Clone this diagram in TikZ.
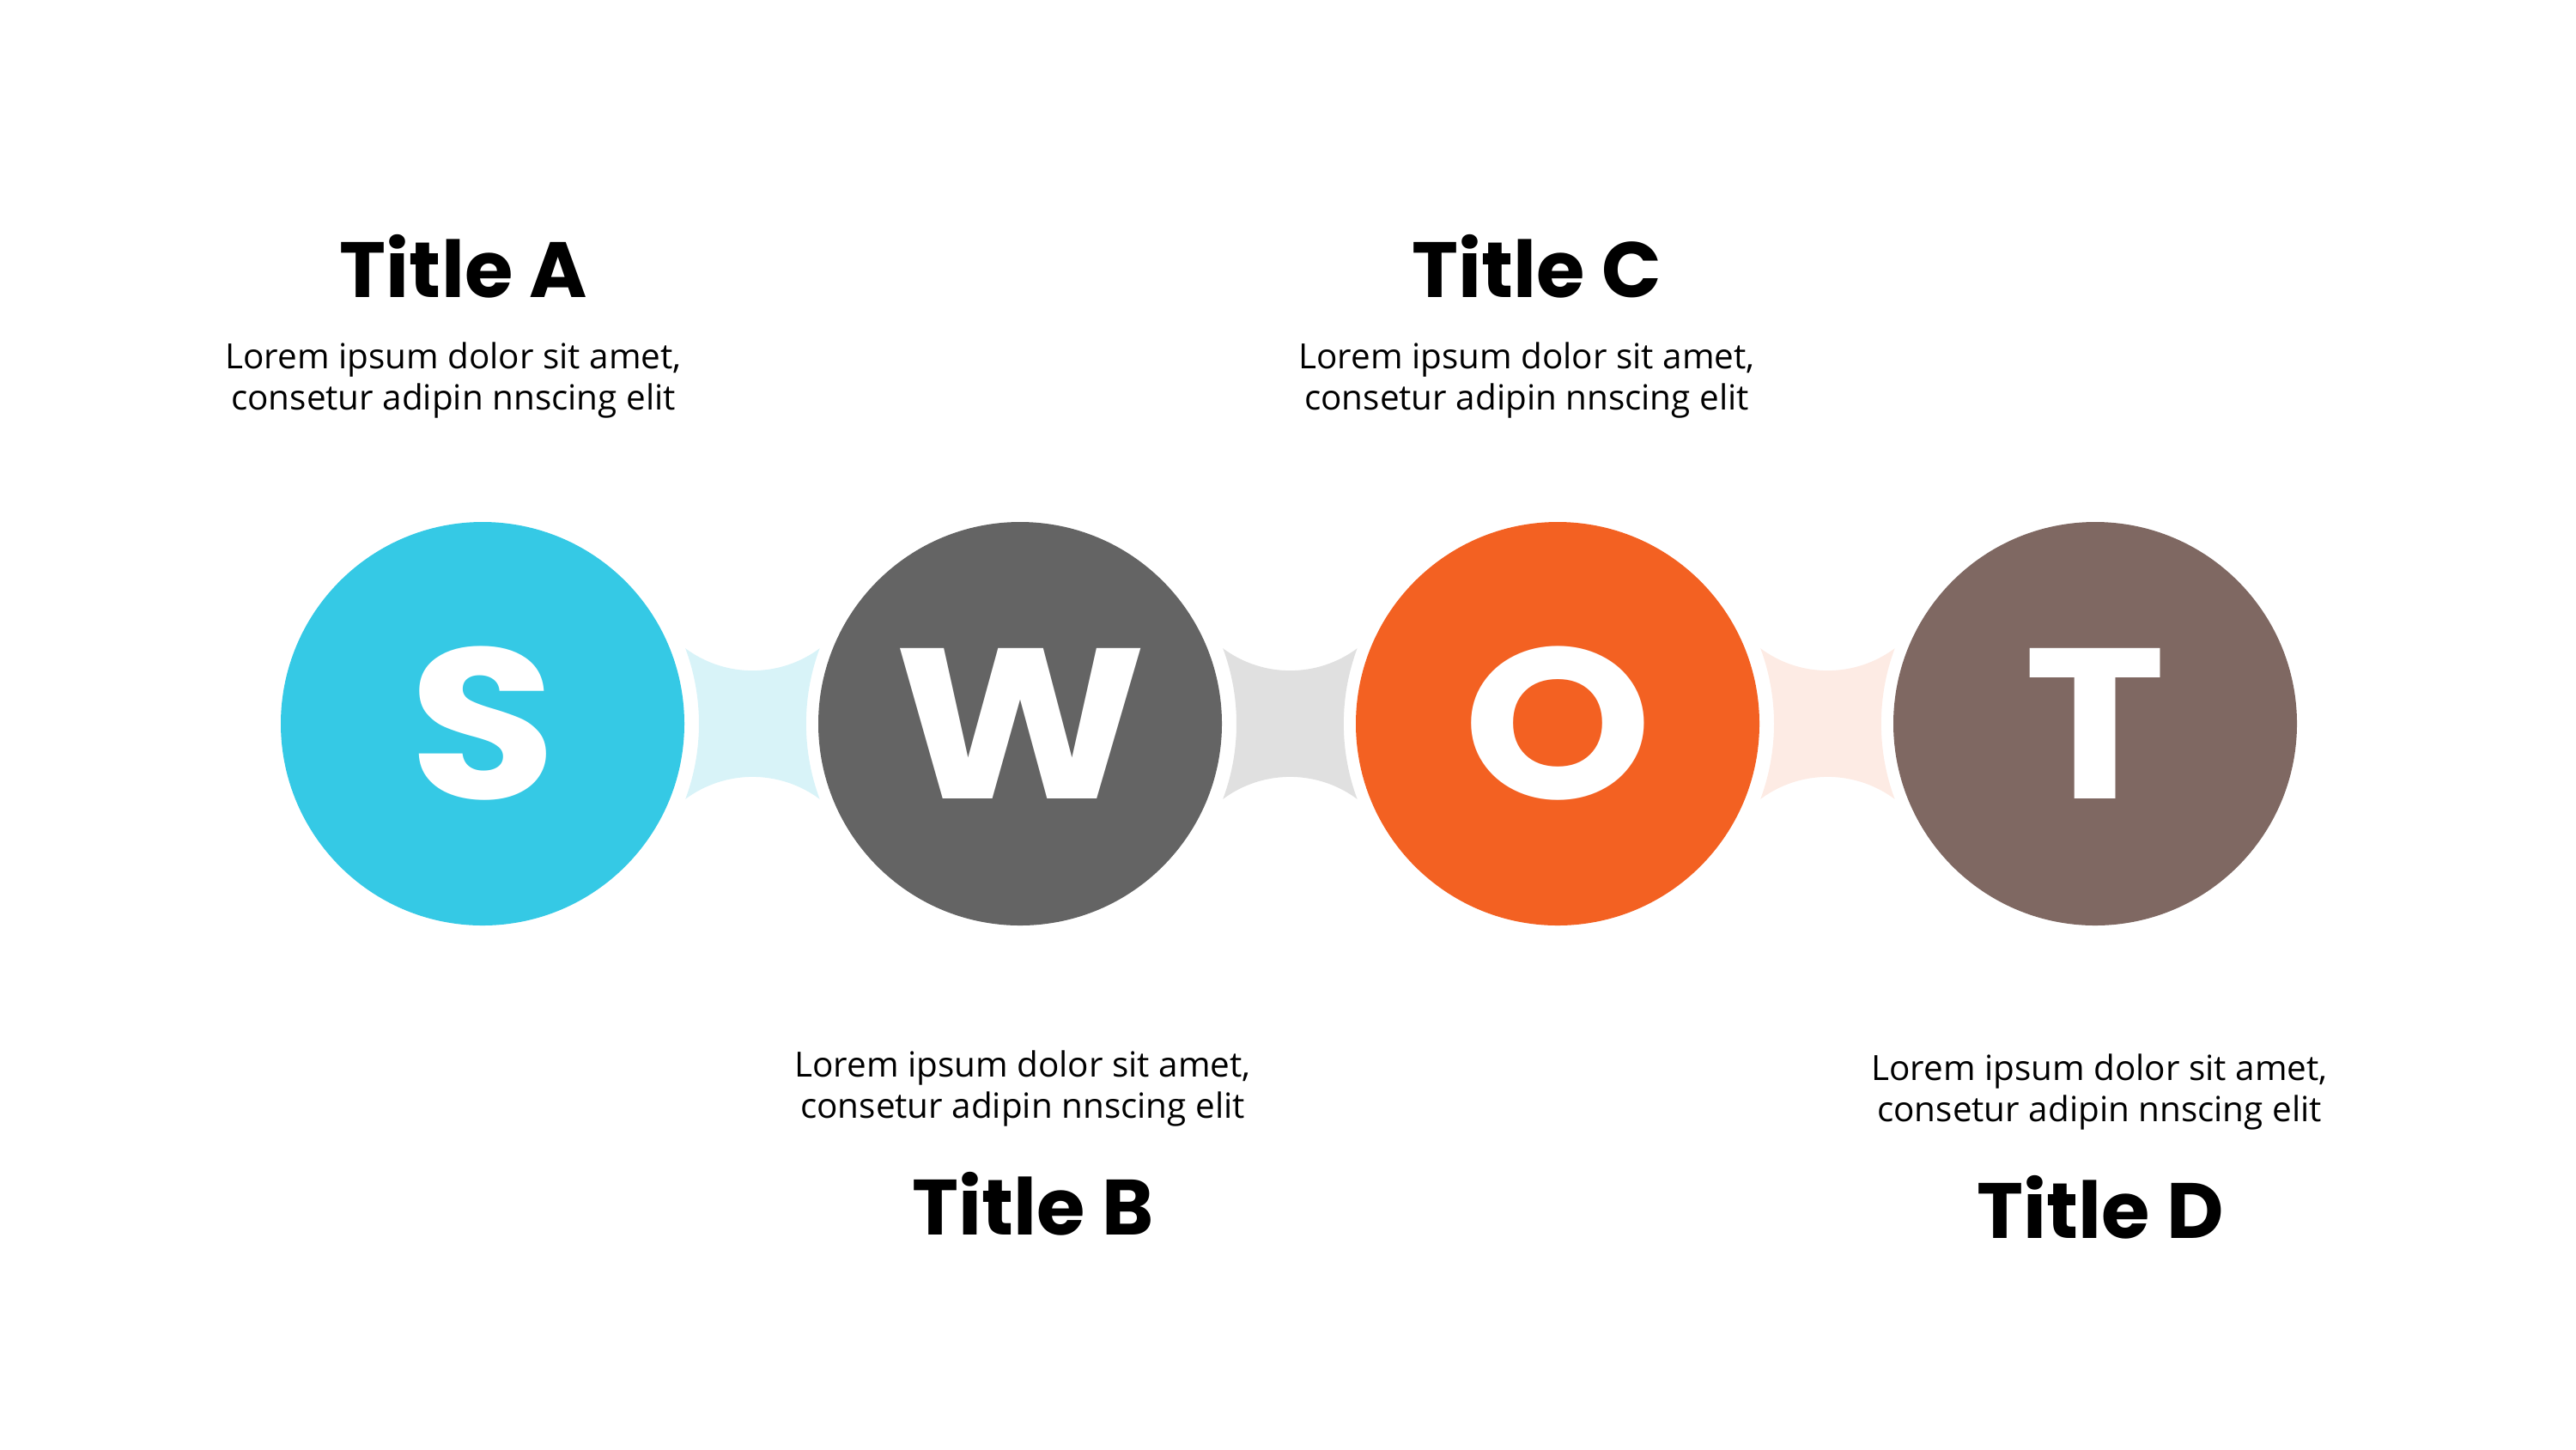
\documentclass[tikz,border=0pt]{standalone}
\usepackage{fontspec}
\setmainfont{Open Sans}
\newfontfamily\titlefont{Poppins}
\newfontfamily\letterfont{Poppins}[FakeStretch=1.12]
\usepackage{xcolor}
\usepackage{tikz}
\usetikzlibrary{positioning,calc}

\definecolor{swotS}{HTML}{35C9E5}
\definecolor{swotW}{HTML}{646464}
\definecolor{swotO}{HTML}{F36122}
\definecolor{swotT}{HTML}{7F6862}
\definecolor{bridgeS}{HTML}{D8F3F8}
\definecolor{bridgeW}{HTML}{E0E0E0}
\definecolor{bridgeO}{HTML}{FDEBE4}

\begin{document}
\begin{tikzpicture}[
    node distance=1.56cm,
    letter/.style={circle, minimum size=4.7cm, inner sep=0pt, outer sep=0pt, text=white, font=\letterfont\bfseries\fontsize{71}{71}\selectfont},
    title/.style={anchor=base, font=\titlefont\bfseries\fontsize{26}{30}\selectfont},
    body/.style={anchor=base, align=center, inner sep=0pt, font=\fontsize{11.5}{13.6}\selectfont}
]
\useasboundingbox (0,0) rectangle (30,-16.88);

\node[letter, fill=swotS] (s) at (5.62,-8.43) {S};
\node[letter, fill=swotW, right=of s] (w) {W};
\node[letter, fill=swotO, right=of w] (o) {O};
\node[letter, fill=swotT, right=of o] (t) {T};

% bridges between the circles
\foreach \a/\b/\c in {s/w/bridgeS, w/o/bridgeW, o/t/bridgeO}
  \fill[\c] ($(\a.center)+(20.4:2.52)$)
    arc[start angle=233.3, end angle=306.7, radius=1.309]
    arc[start angle=159.6, end angle=200.4, radius=2.52]
    arc[start angle=53.3, end angle=126.7, radius=1.309]
    arc[start angle=-20.4, end angle=20.4, radius=2.52] -- cycle;

\node[title] (ta) at (5.40,-3.46) {Title A};
\node[body] (ba) at (5.28,-4.77) {Lorem ipsum dolor sit amet,\\consetur adipin nnscing elit};
\node[title] (tc) at (17.90,-3.46) {Title C};
\node[body] (bc) at (17.78,-4.77) {Lorem ipsum dolor sit amet,\\consetur adipin nnscing elit};
\node[body] (bb) at (11.91,-13.02) {Lorem ipsum dolor sit amet,\\consetur adipin nnscing elit};
\node[title] (tb) at (12.03,-14.38) {Title B};
\node[body] (bd) at (24.45,-13.06) {Lorem ipsum dolor sit amet,\\consetur adipin nnscing elit};
\node[title] (td) at (24.46,-14.42) {Title D};

\end{tikzpicture}
\end{document}
